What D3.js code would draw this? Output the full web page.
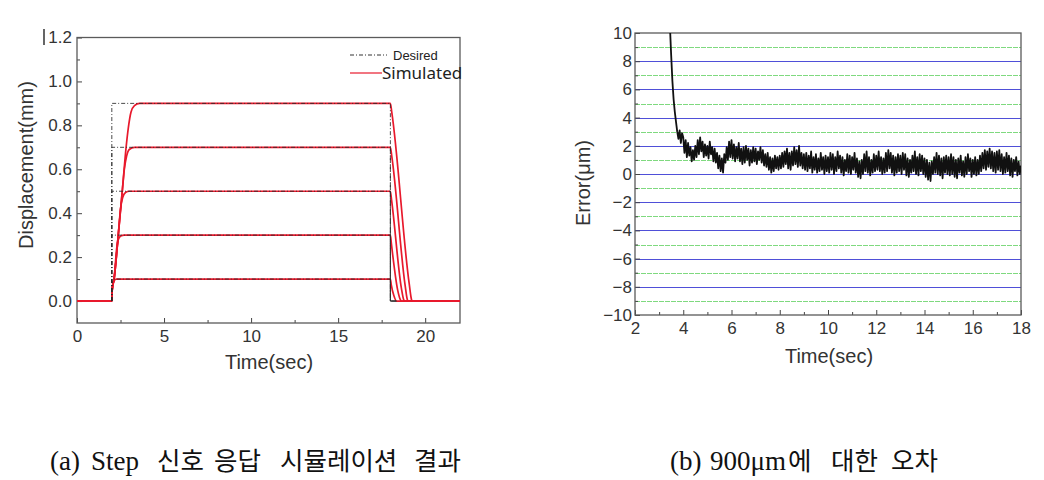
<!DOCTYPE html>
<html>
<head>
<meta charset="utf-8">
<script src="https://cdn.jsdelivr.net/npm/d3@7"></script>
<style>
  html, body { margin: 0; padding: 0; background: #fff; }
  svg { display: block; }
  .tick text { font-family: "Liberation Sans", Arial, sans-serif; fill: #333; }
</style>
</head>
<body>
<script>
// ---------------- DATA ----------------
// (a) Step response
const stepLevels = [0.1, 0.3, 0.5, 0.7, 0.9];
const stepOnTime = 2;
const stepOffTime = 18;
const timeEndA = 22;
const xTicksA = [0, 5, 10, 15, 20];
const xMinorA = [2.5, 7.5, 12.5, 17.5];
const yTicksA = [0.0, 0.2, 0.4, 0.6, 0.8, 1.0, 1.2];
const yMinorA = [0.1, 0.3, 0.5, 0.7, 0.9, 1.1];

// simulated responses: [time, displacement]
const sim01 = [[0,0],[2,0],[2.03,0.06],[2.1,0.09],[2.25,0.1],[18,0.1],[18.05,0.075],[18.2,0.025],[18.35,0],[22,0]];
const sim03 = [[0,0],[2,0],[2.02,0.05],[2.13,0.1],[2.28,0.24],[2.4,0.285],[2.55,0.298],[2.7,0.3],[18,0.3],[18.06,0.26],[18.42,0.05],[18.58,0.005],[18.62,0],[22,0]];
const sim05 = [[0,0],[2,0],[2.02,0.05],[2.13,0.1],[2.37,0.3],[2.5,0.42],[2.62,0.47],[2.8,0.495],[3.0,0.5],[18,0.5],[18.07,0.46],[18.63,0.06],[18.77,0.005],[18.82,0],[22,0]];
const sim07 = [[0,0],[2,0],[2.02,0.05],[2.13,0.1],[2.37,0.3],[2.6,0.5],[2.72,0.6],[2.85,0.66],[3.0,0.69],[3.3,0.7],[18,0.7],[18.08,0.66],[18.85,0.07],[18.98,0.005],[19.03,0],[22,0]];
const sim09 = [[0,0],[2,0],[2.02,0.05],[2.13,0.1],[2.37,0.3],[2.6,0.5],[2.82,0.7],[2.95,0.79],[3.1,0.86],[3.3,0.89],[3.6,0.9],[18,0.9],[18.08,0.86],[19.08,0.08],[19.22,0.005],[19.27,0],[22,0]];
const simulatedSeries = [sim01, sim03, sim05, sim07, sim09];

// (b) Error for 900um
const xTicksB = [2, 4, 6, 8, 10, 12, 14, 16, 18];
const xMinorB = [3, 5, 7, 9, 11, 13, 15, 17];
const yTicksB = [-10, -8, -6, -4, -2, 0, 2, 4, 6, 8, 10];
const yMinorB = [-9, -7, -5, -3, -1, 1, 3, 5, 7, 9];
const errStartTime = 3.45;
const errStep = 0.05;
const errValues = [
  10.4, 8.4, 6.6, 5.3, 4.4, 3.7, 3.0, 2.5, 3.1, 2.2, 2.9,
  2.6, 1.5, 2.4, 1.2, 2.2, 1.3, 1.9, 0.9, 1.7, 1.0, 2.0, 1.2, 2.4, 1.4, 2.6, 1.6, 2.3, 1.2, 2.1, 1.3,
  2.0, 1.1, 2.3, 1.4, 1.9, 0.9, 1.8, 0.8, 1.5, 0.4, 1.3, 0.2, 1.1, 0.1, 1.4, 0.8, 1.9, 1.0, 2.3, 1.2,
  2.4, 1.1, 2.1, 0.9, 1.9, 1.1, 2.2, 0.9, 1.8, 0.7, 1.9, 0.8, 2.0, 1.0, 1.8, 0.6, 1.7, 0.8, 1.9, 0.9,
  1.8, 0.7, 1.6, 1.0, 1.9, 0.8, 1.7, 0.6, 1.4, 0.5, 1.5, 0.3, 1.2, 0.1, 1.1, 0.2, 1.3, 0.4, 1.2, 0.3,
  1.3, 0.4, 1.5, 0.5, 1.6, 0.7, 1.8, 0.4, 1.5, 0.3, 1.6, 0.6, 1.9, 0.7, 1.7, 0.5, 2.0, 0.6, 1.5, 0.4,
  1.4, 0.3, 1.5, 0.2, 1.3, 0.4, 1.6, 0.1, 1.2, 0.3, 1.4, 0.1, 1.1, 0.2, 1.5, 0.3, 1.2, 0.0, 1.3, 0.2,
  1.2, 0.1, 1.5, 0.3, 1.4, 0.0, 1.2, 0.2, 1.6, 0.4, 1.3, 0.1, 1.2, -0.1, 1.0, 0.2, 1.4, 0.1, 1.3, 0.0,
  1.2, 0.3, 1.5, 0.1, 1.1, -0.2, 0.9, -0.3, 1.0, 0.0, 1.4, 0.2, 1.6, 0.1, 1.2, -0.1, 1.0, 0.1, 1.4, 0.2,
  1.3, 0.3, 1.6, 0.2, 1.2, 0.0, 1.1, 0.1, 1.5, 0.2, 1.7, 0.4, 1.5, 0.1, 1.3, -0.1, 1.2, 0.1, 1.4, 0.2,
  1.3, 0.0, 1.5, 0.3, 1.4, -0.1, 1.1, -0.2, 1.0, 0.1, 1.3, 0.2, 1.6, 0.0, 1.2, -0.1, 1.4, 0.2, 1.3, 0.0,
  1.1, -0.2, 1.0, -0.4, 0.8, -0.5, 0.9, 0.0, 1.2, 0.1, 1.5, 0.0, 1.3, -0.1, 1.1, -0.3, 1.2, 0.1, 1.3, 0.0,
  1.2, -0.1, 1.4, 0.0, 1.2, -0.2, 1.0, -0.3, 1.1, 0.1, 1.3, -0.1, 0.9, -0.2, 1.2, 0.0, 1.4, 0.2, 1.1, -0.2,
  1.0, 0.0, 1.2, -0.1, 1.0, 0.0, 1.3, 0.2, 1.5, 0.4, 1.7, 0.3, 1.6, 0.5, 1.8, 0.4, 1.6, 0.2, 1.5, 0.1,
  1.6, 0.3, 1.7, 0.2, 1.4, 0.0, 1.2, 0.1, 1.5, 0.2, 1.3, -0.1, 1.1, -0.2, 1.0, 0.2, 1.2, -0.1, 0.9, 0.0,
  0.6
];

// captions split into pieces (Latin pieces in serif, Korean in CJK font)
const captionAWords = ["(a)", "Step", "신호", "응답", "시뮬레이션", "결과"];
const captionBWords = ["(b)", "900μm", "에", "대한", "오차"];

// ---------------- DRAW ----------------
const svg = d3.select("body").append("svg").attr("width", 1044).attr("height", 480);
const RED = "#e8192c";
const FRAME = "#5a5a5a";

// ===== (a) =====
const xA = d3.scaleLinear().domain([0, timeEndA]).range([77, 460]);
const yA = d3.scaleLinear().domain([-0.1, 1.2]).range([323, 37.5]);
const gA = svg.append("g");

function styleAxis(g, size) {
  g.select(".domain").remove();
  g.selectAll(".tick line").attr("stroke", "#444");
  g.selectAll(".tick text").style("font-size", size + "px");
}

gA.append("g").attr("transform", `translate(0,${yA.range()[0]})`)
  .call(d3.axisBottom(xA).tickValues(xTicksA).tickFormat(d3.format("d")).tickSizeInner(-5).tickSizeOuter(0).tickPadding(7))
  .call(g => styleAxis(g, 17));
gA.append("g").attr("transform", `translate(0,${yA.range()[0]})`)
  .call(d3.axisBottom(xA).tickValues(xMinorA).tickFormat("").tickSizeInner(-3).tickSizeOuter(0))
  .call(g => styleAxis(g, 17));
gA.append("g").attr("transform", `translate(${xA.range()[0]},0)`)
  .call(d3.axisLeft(yA).tickValues(yTicksA).tickFormat(d3.format(".1f")).tickSizeInner(-5).tickSizeOuter(0).tickPadding(5))
  .call(g => styleAxis(g, 17));
gA.append("g").attr("transform", `translate(${xA.range()[0]},0)`)
  .call(d3.axisLeft(yA).tickValues(yMinorA).tickFormat("").tickSizeInner(-3).tickSizeOuter(0))
  .call(g => styleAxis(g, 17));

gA.append("rect")
  .attr("x", xA.range()[0]).attr("y", yA.range()[1])
  .attr("width", xA.range()[1] - xA.range()[0]).attr("height", yA.range()[0] - yA.range()[1])
  .attr("fill", "none").attr("stroke", FRAME).attr("stroke-width", 1.3);

// small artifact bar left of 1.2
gA.append("line").attr("x1", 44).attr("x2", 44).attr("y1", 29).attr("y2", 45)
  .attr("stroke", "#555").attr("stroke-width", 1.8);

const lineA = d3.line().x(d => xA(d[0])).y(d => yA(d[1])).curve(d3.curveMonotoneX);

gA.append("g").selectAll("path").data(simulatedSeries).join("path")
  .attr("d", lineA).attr("fill", "none").attr("stroke", RED).attr("stroke-width", 1.7);

// desired step paths
const lineLin = d3.line().x(d => xA(d[0])).y(d => yA(d[1]));
gA.append("g").selectAll("path").data(stepLevels).join("path")
  .attr("d", L => lineLin([[stepOnTime, 0], [stepOnTime, L], [stepOffTime, L], [stepOffTime, 0], [stepOffTime + 0.35, 0]]))
  .attr("fill", "none").attr("stroke", "#2a2a2a").attr("stroke-width", 1)
  .attr("stroke-dasharray", "4,2,1,2").attr("opacity", 0.85);

// legend
gA.append("line").attr("x1", 350).attr("x2", 387).attr("y1", 55).attr("y2", 55)
  .attr("stroke", "#333").attr("stroke-width", 1).attr("stroke-dasharray", "4,2,1,2");
gA.append("text").attr("x", 393).attr("y", 60).text("Desired")
  .style("font-family", "'Liberation Sans', Arial, sans-serif").style("font-size", "13px").attr("fill", "#222");
gA.append("line").attr("x1", 350).attr("x2", 382).attr("y1", 73).attr("y2", 73)
  .attr("stroke", RED).attr("stroke-width", 1.2);
gA.append("text").attr("x", 382).attr("y", 79).text("Simulated")
  .style("font-family", "'Noto Sans', sans-serif").style("font-size", "17px").attr("fill", "#222");

// axis titles
gA.append("text").attr("x", 269).attr("y", 369).attr("text-anchor", "middle").text("Time(sec)")
  .style("font-family", "'Liberation Sans', Arial, sans-serif").style("font-size", "20px").attr("fill", "#333");
gA.append("text").attr("transform", "translate(33,165) rotate(-90)").attr("text-anchor", "middle").text("Displacement(mm)")
  .style("font-family", "'Liberation Sans', Arial, sans-serif").style("font-size", "20px").attr("fill", "#333");

// ===== (b) =====
const xB = d3.scaleLinear().domain([2, 18]).range([635, 1021]);
const yB = d3.scaleLinear().domain([-10, 10]).range([315, 33]);
const gB = svg.append("g");
const snap = v => Math.round(v) + 0.5;

// grid lines
gB.append("g").selectAll("line").data(yMinorB).join("line")
  .attr("x1", xB.range()[0]).attr("x2", xB.range()[1])
  .attr("y1", d => snap(yB(d))).attr("y2", d => snap(yB(d)))
  .attr("stroke", "#7fd97f").attr("stroke-width", 1).attr("stroke-dasharray", "5,1");
gB.append("g").selectAll("line").data(yTicksB.filter(v => v > -10 && v < 10)).join("line")
  .attr("x1", xB.range()[0]).attr("x2", xB.range()[1])
  .attr("y1", d => snap(yB(d))).attr("y2", d => snap(yB(d)))
  .attr("stroke", "#4f4fd8").attr("stroke-width", 1.2);

gB.append("g").attr("transform", `translate(0,${yB.range()[0]})`)
  .call(d3.axisBottom(xB).tickValues(xTicksB).tickFormat(d3.format("d")).tickSizeInner(-5).tickSizeOuter(0).tickPadding(7))
  .call(g => styleAxis(g, 17));
gB.append("g").attr("transform", `translate(0,${yB.range()[0]})`)
  .call(d3.axisBottom(xB).tickValues(xMinorB).tickFormat("").tickSizeInner(-3).tickSizeOuter(0))
  .call(g => styleAxis(g, 17));
gB.append("g").attr("transform", `translate(${xB.range()[0]},0)`)
  .call(d3.axisLeft(yB).tickValues(yTicksB).tickFormat(d3.format("d")).tickSizeInner(-5).tickSizeOuter(0).tickPadding(3))
  .call(g => styleAxis(g, 17));
gB.append("g").attr("transform", `translate(${xB.range()[0]},0)`)
  .call(d3.axisLeft(yB).tickValues(yMinorB).tickFormat("").tickSizeInner(-3).tickSizeOuter(0))
  .call(g => styleAxis(g, 17));

gB.append("rect")
  .attr("x", xB.range()[0]).attr("y", yB.range()[1])
  .attr("width", xB.range()[1] - xB.range()[0]).attr("height", yB.range()[0] - yB.range()[1])
  .attr("fill", "none").attr("stroke", FRAME).attr("stroke-width", 1.3);

svg.append("clipPath").attr("id", "clipB").append("rect")
  .attr("x", xB.range()[0]).attr("y", yB.range()[1])
  .attr("width", xB.range()[1] - xB.range()[0]).attr("height", yB.range()[0] - yB.range()[1]);

const lineB = d3.line().x((d, i) => xB(errStartTime + i * errStep)).y(d => yB(d));
gB.append("path").datum(errValues).attr("clip-path", "url(#clipB)")
  .attr("d", lineB).attr("fill", "none").attr("stroke", "#111").attr("stroke-width", 1.8)
  .attr("stroke-linejoin", "round");

gB.append("text").attr("x", 829).attr("y", 363).attr("text-anchor", "middle").text("Time(sec)")
  .style("font-family", "'Liberation Sans', Arial, sans-serif").style("font-size", "20px").attr("fill", "#333");
gB.append("text").attr("transform", "translate(590,183) rotate(-90)").attr("text-anchor", "middle").text("Error(μm)")
  .style("font-family", "'Liberation Sans', Arial, sans-serif").style("font-size", "20px").attr("fill", "#333");

// captions
const capAX = [50, 91, 157, 214, 280, 414];
const capBX = [670, 710, 788, 831, 891];
const isKorean = s => /[\uAC00-\uD7A3]/.test(s);
function caption(words, xs) {
  const t = svg.append("text").attr("y", 470).attr("fill", "#111");
  t.selectAll("tspan").data(words).join("tspan")
    .attr("x", (d, i) => xs[i]).text(d => d)
    .style("font-family", d => isKorean(d) ? "'Noto Sans CJK KR', sans-serif" : "'Liberation Serif', serif")
    .style("font-size", d => isKorean(d) ? "25.5px" : "27px");
}
caption(captionAWords, capAX);
caption(captionBWords, capBX);
</script>
</body>
</html>
